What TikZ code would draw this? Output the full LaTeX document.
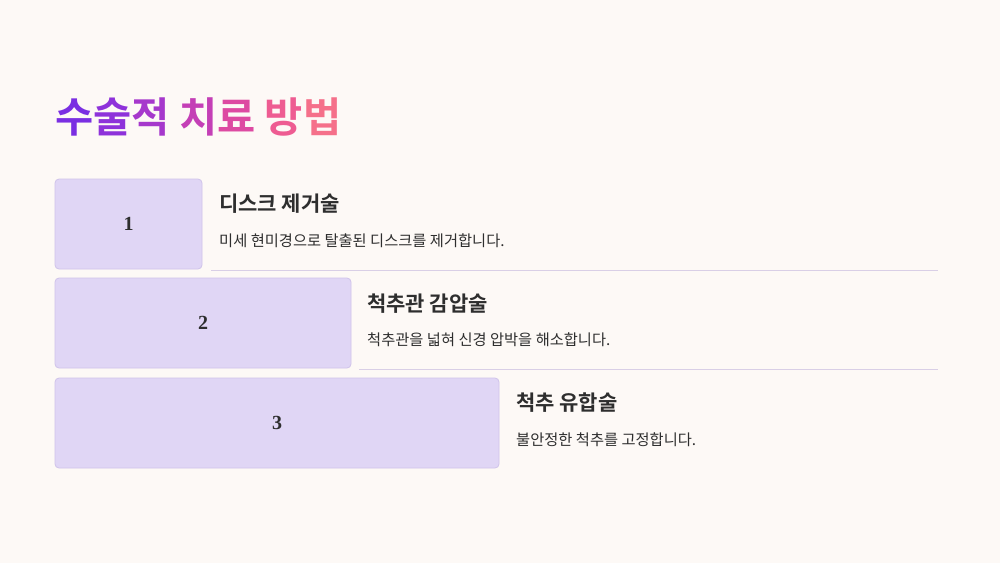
\documentclass[tikz,border=0pt]{standalone}
\usepackage{fontspec}
\setmainfont{Liberation Serif}
\newfontfamily\kr{Noto Sans CJK KR}
\newfontfamily\krb{Noto Sans CJK KR Bold}
\definecolor{bg}{HTML}{FDF9F6}
\definecolor{boxfill}{HTML}{E0D6F5}
\definecolor{boxline}{HTML}{CFC3EA}
\definecolor{sepline}{HTML}{D9CFE6}
\definecolor{txt}{HTML}{2E2E2E}
\definecolor{tA}{HTML}{7A2FE2}
\definecolor{tB}{HTML}{8E32DA}
\definecolor{tC}{HTML}{A638CC}
\definecolor{tD}{HTML}{C43FB6}
\definecolor{tE}{HTML}{DD4AA2}
\definecolor{tF}{HTML}{EE5C92}
\definecolor{tG}{HTML}{F4688C}
\definecolor{tH}{HTML}{F5708A}
\begin{document}
\begin{tikzpicture}[x=1pt,y=-1pt,
  stepbox/.style={draw=boxline,fill=boxfill,rounded corners=4pt,line width=0.8pt},
  numtxt/.style={font=\bfseries\fontsize{20}{22}\selectfont,text=txt},
  headtxt/.style={anchor=base west,inner sep=0pt,font=\krb\fontsize{21}{24}\selectfont,text=txt},
  desctxt/.style={anchor=base west,inner sep=0pt,font=\kr\fontsize{15.3}{18}\selectfont,text=txt},
  sep/.style={draw=sepline,line width=0.9pt}]
\fill[bg] (0,0) rectangle (1000,563);
\useasboundingbox (0,0) rectangle (1000,563);
\node[anchor=base west,inner sep=0pt,font=\krb\fontsize{41.5}{48}\selectfont] (title) at (55,132)
  {\textcolor{tA}{수}\textcolor{tB}{술}\textcolor{tC}{적} \textcolor{tD}{치}\textcolor{tE}{료} \textcolor{tF}{방}\textcolor{tH}{법}};
% boxes
\draw[stepbox] (55,179) rectangle (202,269);
\node[numtxt] (n1) at (128.5,224) {1};
\draw[stepbox] (55,278) rectangle (351,368);
\node[numtxt] (n2) at (203,323) {2};
\draw[stepbox] (55,378) rectangle (499,468);
\node[numtxt] (n3) at (277,423) {3};
% texts
\node[headtxt] (h1) at (219,211) {디스크 제거술};
\node[desctxt] (d1) at (219,246.5) {미세 현미경으로 탈출된 디스크를 제거합니다.};
\node[headtxt] (h2) at (367,311) {척추관 감압술};
\node[desctxt] (d2) at (367,345.5) {척추관을 넓혀 신경 압박을 해소합니다.};
\node[headtxt] (h3) at (516,410) {척추 유합술};
\node[desctxt] (d3) at (516,445.5) {불안정한 척추를 고정합니다.};
% separators
\coordinate (s1a) at (211,270); \coordinate (s1b) at (938,270);
\coordinate (s2a) at (359,369); \coordinate (s2b) at (938,369);
\draw[sep] (s1a) -- (s1b);
\draw[sep] (s2a) -- (s2b);
\end{tikzpicture}
\end{document}
